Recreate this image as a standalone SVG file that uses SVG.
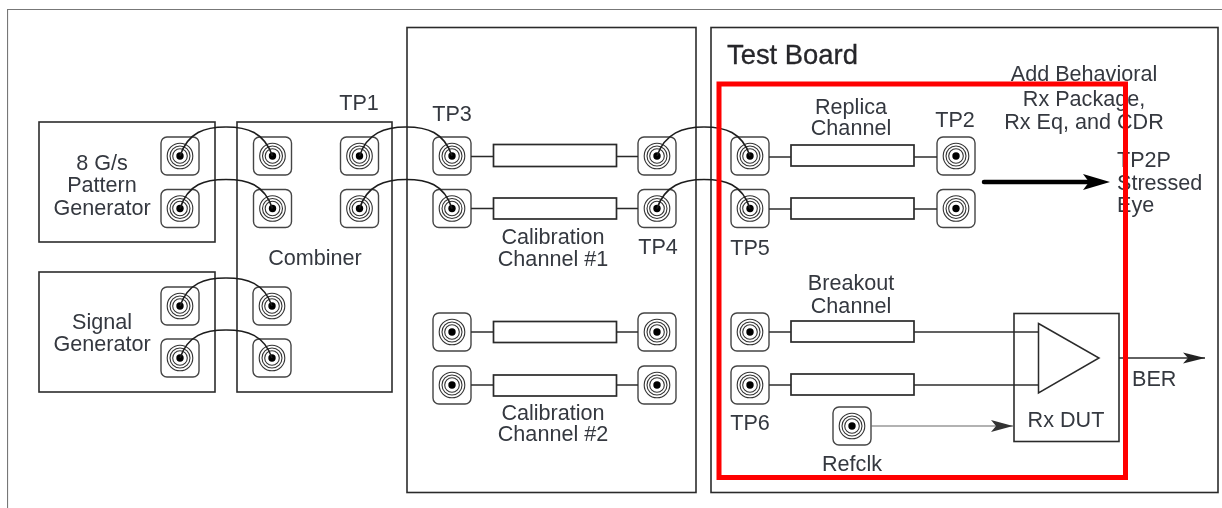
<svg xmlns="http://www.w3.org/2000/svg" width="1222" height="508" viewBox="0 0 1222 508">
<style>
text{font-family:"Liberation Sans",Arial,sans-serif;font-size:21.600px;fill:#34383f;text-anchor:middle}
.box{fill:none;stroke:#2b2b2b;stroke-width:1.600}
.ch{fill:#fff;stroke:#2b2b2b;stroke-width:1.700}
.w{fill:none;stroke:#2b2b2b;stroke-width:1.400}
.cable{fill:none;stroke:#1f1f1f;stroke-width:1.600}
.s{text-anchor:start}
</style>
<defs>
<filter id="soft" x="0" y="0" width="100%" height="100%"><feGaussianBlur stdDeviation="0.350"/></filter>
<g id="sma">
<rect x="-19" y="-19" width="38" height="38" rx="6" fill="#fff" stroke="#444" stroke-width="1.400"/>
<circle r="12.800" fill="none" stroke="#333" stroke-width="1.100"/>
<circle r="10" fill="none" stroke="#333" stroke-width="1.100"/>
<circle r="7.300" fill="none" stroke="#333" stroke-width="1.100"/>
<circle r="3.700" fill="#000"/>
</g>
<marker id="ah" markerUnits="userSpaceOnUse" markerWidth="22" markerHeight="14" refX="22" refY="7" orient="auto"><path d="M0 1.500 L22 7 L0 12.500 L5 7Z" fill="#222"/></marker>
<marker id="ah2" markerUnits="userSpaceOnUse" markerWidth="22" markerHeight="14" refX="22" refY="7" orient="auto"><path d="M0 1 L22 7 L0 13 L5 7Z" fill="#333"/></marker>
<marker id="ahb" markerUnits="userSpaceOnUse" markerWidth="28" markerHeight="18" refX="12" refY="8" orient="auto"><path d="M0 0 L27 8 L0 16 L6 8Z" fill="#000"/></marker>
</defs>
<rect width="1222" height="508" fill="#fff"/>
<g filter="url(#soft)">
<path id="page-frame" d="M7.500 508V9.500H1222" fill="none" stroke="#777" stroke-width="1.200"/>

<g id="pattern-generator"><rect class="box" x="39" y="122" width="176" height="120"/>
<text x="102" y="170">8 G/s</text><text x="102" y="192">Pattern</text><text x="102" y="215">Generator</text>
<use href="#sma" x="180" y="156"/><use href="#sma" x="180" y="208.500"/></g>

<g id="signal-generator"><rect class="box" x="39" y="272" width="176" height="120"/>
<text x="102" y="329">Signal</text><text x="102" y="351">Generator</text>
<use href="#sma" x="180" y="306"/><use href="#sma" x="180" y="358"/></g>

<g id="combiner"><rect class="box" x="237" y="122" width="155" height="270"/>
<text x="315" y="265">Combiner</text>
<use href="#sma" x="272.500" y="156"/><use href="#sma" x="272.500" y="208.500"/>
<use href="#sma" x="359.500" y="156"/><use href="#sma" x="359.500" y="208.500"/>
<use href="#sma" x="272" y="306"/><use href="#sma" x="272" y="358"/>
<text x="359" y="110">TP1</text></g>

<g id="calibration-fixture"><rect class="box" x="407" y="27.500" width="289" height="465"/></g>

<g id="calibration-channel-1">
<rect class="ch" x="493.500" y="144.500" width="123" height="22"/><rect class="ch" x="493.500" y="198" width="123" height="21"/>
<use href="#sma" x="452" y="156"/><use href="#sma" x="452" y="208.500"/>
<use href="#sma" x="657" y="156"/><use href="#sma" x="657" y="208.500"/>
<text x="452" y="121">TP3</text><text x="658" y="254">TP4</text>
<text x="553" y="244">Calibration</text><text x="553" y="266">Channel #1</text></g>

<g id="calibration-channel-2">
<rect class="ch" x="493.500" y="321.500" width="123" height="21"/><rect class="ch" x="493.500" y="375" width="123" height="21"/>
<use href="#sma" x="452" y="332"/><use href="#sma" x="452" y="385"/>
<use href="#sma" x="657" y="332"/><use href="#sma" x="657" y="385"/>
<text x="553" y="420">Calibration</text><text x="553" y="441">Channel #2</text></g>

<g id="test-board"><rect class="box" x="711" y="27.500" width="507" height="465"/>
<text class="s" x="727" y="64" style="font-size:27.400px;fill:#26262a;stroke:#26262a;stroke-width:0.300">Test Board</text></g>

<g id="replica-channel">
<rect class="ch" x="791" y="145" width="123" height="21"/><rect class="ch" x="791" y="198" width="123" height="21"/>
<use href="#sma" x="750" y="156"/><use href="#sma" x="750" y="208.500"/>
<use href="#sma" x="956" y="156"/><use href="#sma" x="956" y="208.500"/>
<text x="851" y="114">Replica</text><text x="851" y="135">Channel</text>
<text x="955" y="127">TP2</text><text x="750" y="255">TP5</text></g>

<g id="breakout-channel">
<rect class="ch" x="791" y="321" width="123" height="21"/><rect class="ch" x="791" y="374" width="123" height="21"/>
<use href="#sma" x="750" y="332"/><use href="#sma" x="750" y="385"/>
<text x="851" y="290">Breakout</text><text x="851" y="313">Channel</text>
<text x="750" y="430">TP6</text></g>

<g id="refclk"><use href="#sma" x="852" y="426"/><text x="852" y="471">Refclk</text></g>

<g id="rx-dut"><rect class="box" x="1014" y="313.500" width="105" height="128"/>
<path d="M1038.500 323.500L1099 358L1038.500 393Z" fill="none" stroke="#2b2b2b" stroke-width="1.500"/>
<text x="1066" y="427">Rx DUT</text></g>

<g id="connectors">
<path class="cable" d="M180 156C188 132 205 127 226 127C247 127 264 132 272.500 156"/>
<path class="cable" d="M180 208.500C188 184 205 179.500 226 179.500C247 179.500 264 184 272.500 208.500"/>
<path class="cable" d="M359.500 156C367 133 385 127 406 127C427 127 444 132 452 156"/>
<path class="cable" d="M359.500 208.500C367 185 385 179.500 406 179.500C427 179.500 444 184 452 208.500"/>
<path class="cable" d="M657 156C665 133 683 127 704 127C725 127 742 132 750 156"/>
<path class="cable" d="M657 208.500C665 185 683 179.500 704 179.500C725 179.500 742 184 750 208.500"/>
<path class="cable" d="M180 306C188 283 205 278 226 278C247 278 264 283 272 306"/>
<path class="cable" d="M180 358C188 335 205 330 226 330C247 330 264 335 272 358"/>
<path class="w" d="M471 156.500H493.500M616.500 156.500H638M471 208.500H493.500M616.500 208.500H638"/>
<path class="w" d="M471 332H493.500M616.500 332H638M471 385H493.500M616.500 385H638"/>
<path class="w" d="M769 157H791M914 157H937M769 209H791M914 209H937"/>
<path class="w" d="M769 332H791M914 332H1038.500M769 385H791M914 385H1038.500"/>
<path class="w" marker-end="url(#ah)" d="M1119 358H1205"/>
<path d="M871 426H1013" fill="none" stroke="#666" stroke-width="1.200" marker-end="url(#ah2)"/>
<path d="M984 182H1095" fill="none" stroke="#000" stroke-width="4.500" stroke-linecap="round" marker-end="url(#ahb)"/>
</g>

<g id="annotations">
<text x="1084" y="81">Add Behavioral</text><text x="1084" y="106">Rx Package,</text><text x="1084" y="129">Rx Eq, and CDR</text>
<text class="s" x="1117" y="167">TP2P</text><text class="s" x="1117" y="190">Stressed</text><text class="s" x="1117" y="212">Eye</text>
<text class="s" x="1132" y="386">BER</text>
</g>

<rect id="highlight" x="719" y="84" width="406.500" height="393.500" fill="none" stroke="#f00" stroke-width="5"/>
</g>
</svg>
